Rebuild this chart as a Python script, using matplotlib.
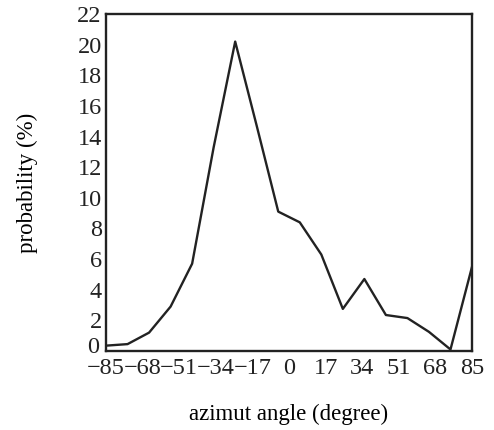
import matplotlib

matplotlib.use("Agg")

import matplotlib.pyplot as plt
import matplotlib.transforms as mtransforms
import numpy as np

angles = np.arange(-85, 86, 10)
probability = [0.35, 0.45, 1.2, 2.9, 5.7, 13.3, 20.2, 14.7, 9.1, 8.4,
               6.3, 2.75, 4.7, 2.35, 2.15, 1.25, 0.1, 5.5]
x_ticks = np.arange(-85, 86, 17)
y_ticks = np.arange(0, 23, 2)

plt.rcParams.update(
    {
        "font.family": "Liberation Serif",
        "axes.linewidth": 1.7,
        "axes.edgecolor": "#222222",
        "text.color": "#222222",
        "xtick.color": "#222222",
        "ytick.color": "#222222",
    }
)

fig = plt.figure(figsize=(4.94, 4.30), dpi=100)
ax = fig.add_axes([0.2146, 0.1837, 0.7409, 0.7837])
ax.plot(angles, probability, color="#222222", linewidth=1.7)
ax.set_xlim(-85, 85)
ax.set_ylim(0, 22)
ax.set_xticks(x_ticks)
ax.set_xticklabels([f"{t}".replace("-", "\u2212") for t in x_ticks])
ax.set_yticks(y_ticks)
ax.tick_params(length=0, labelsize=17.5, pad=3)
ax.tick_params(axis="x", pad=5)
ax.set_xlabel("azimut angle (degree)", fontsize=16.5, labelpad=18)
ax.set_ylabel("probability (%)", fontsize=16.5, labelpad=28)

# the "0" sits a little above the corner so it clears the "-85"
zero_label = ax.get_yticklabels()[0]
zero_label.set_transform(
    zero_label.get_transform()
    + mtransforms.ScaledTranslation(-2 / 72, 4 / 72, fig.dpi_scale_trans)
)

fig.savefig("out.png", dpi=100, facecolor="white")
